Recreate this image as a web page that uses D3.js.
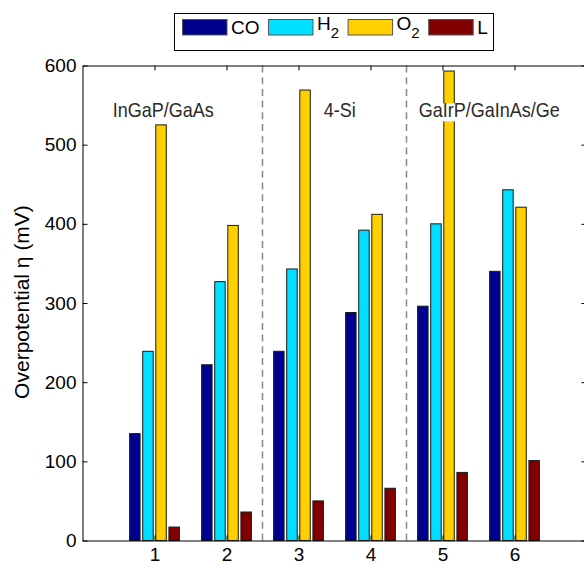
<!DOCTYPE html>
<html>
<head>
<meta charset="utf-8">
<script src="https://cdn.jsdelivr.net/npm/d3@7"></script>
<style>
  body { margin: 0; background: #fff; }
  svg { display: block; font-family: "Liberation Sans", Arial, Helvetica, sans-serif; }
</style>
</head>
<body>
<div id="chart"></div>
<script>
// data
const categories = [1, 2, 3, 4, 5, 6];
const seriesNames = ['CO', 'H2', 'O2', 'L'];
const coValues = [135, 222, 239, 288, 296, 340];
const h2Values = [239, 327, 343, 392, 400, 443];
const o2Values = [525, 398, 569, 412, 593, 421];
const lValues = [17, 36, 50, 66, 86, 101];
const yTicks = [0, 100, 200, 300, 400, 500, 600];
const groupLabels = ['InGaP/GaAs', '4-Si', 'GaIrP/GaInAs/Ge'];
const groupLabelX = [0.42, 3.35, 4.67];
const separators = [2.5, 4.5];
// legend text: [base, subscript]
const legendLabels = [['CO', ''], ['H', '2'], ['O', '2'], ['L', '']];

const colors = ['#00008f', '#00dfff', '#ffcf00', '#800000'];
const seriesValues = [coValues, h2Values, o2Values, lValues];

const W = 584, H = 564;
const margin = { top: 65.5, left: 82.5 };
const width = 504, height = 475;

const svg = d3.select('#chart').append('svg')
  .attr('width', W)
  .attr('height', H);

const g = svg.append('g')
  .attr('transform', `translate(${margin.left},${margin.top})`);

const x = d3.scaleLinear().domain([0, 7]).range([0, width]);
const y = d3.scaleLinear().domain([0, 600]).range([height, 0]);

// grouped bars, matlab style spacing
const slot = 0.182;
const barW = x(slot * 0.8) - x(0);

seriesNames.forEach((name, i) => {
  g.selectAll('.bar-' + name)
    .data(seriesValues[i])
    .enter()
    .append('rect')
    .attr('x', (d, j) => x(categories[j] + (i - 1.5) * slot) - barW / 2)
    .attr('y', d => y(d))
    .attr('width', barW)
    .attr('height', d => y(0) - y(d))
    .attr('fill', colors[i])
    .attr('stroke', '#1a1a1a')
    .attr('stroke-width', 1);
});

// dashed separators
g.selectAll('.sep')
  .data(separators)
  .enter()
  .append('line')
  .attr('x1', d => x(d)).attr('x2', d => x(d))
  .attr('y1', y(0)).attr('y2', y(600))
  .attr('stroke', '#888')
  .attr('stroke-width', 1.5)
  .attr('stroke-dasharray', '7,4.7');

// group labels with white backing
const labelBaseline = y(534.5);
groupLabels.forEach((t, i) => {
  const lx = x(groupLabelX[i]);
  const lg = g.append('g')
    .attr('transform', `translate(${lx},${labelBaseline}) scale(0.9,1)`);
  const txt = lg.append('text')
    .attr('x', 0).attr('y', 0)
    .attr('font-size', 20)
    .attr('fill', '#2a2a2a')
    .text(t);
  const len = txt.node().getComputedTextLength();
  lg.insert('rect', 'text')
    .attr('x', 0).attr('y', -14)
    .attr('width', len).attr('height', 18)
    .attr('fill', '#fff');
});

// axes (ticks inward)
const yAxis = g.append('g')
  .call(d3.axisLeft(y).tickValues(yTicks).tickSize(-5).tickSizeOuter(0).tickPadding(6));
yAxis.selectAll('text').attr('font-size', 19).attr('fill', '#000');

const xAxis = g.append('g')
  .attr('transform', `translate(0,${height})`)
  .call(d3.axisBottom(x).tickValues(categories).tickFormat(d3.format('d'))
    .tickSize(-5).tickSizeOuter(0).tickPadding(7));
xAxis.selectAll('text').attr('font-size', 19).attr('fill', '#000');

g.append('g')
  .call(d3.axisTop(x).tickValues(categories).tickSize(-5).tickSizeOuter(0).tickFormat(''));

g.append('g')
  .attr('transform', `translate(${width},0)`)
  .call(d3.axisRight(y).tickValues(yTicks).tickSize(-5).tickSizeOuter(0).tickFormat(''));

g.selectAll('.domain').attr('stroke', '#000');
g.selectAll('.tick line').attr('stroke', '#000');

// y axis title
svg.append('text')
  .attr('transform', 'translate(29,302) rotate(-90)')
  .attr('text-anchor', 'middle')
  .attr('font-size', 21)
  .attr('fill', '#000')
  .text('Overpotential η (mV)');

// legend
const legend = svg.append('g');
legend.append('rect')
  .attr('x', 174.5).attr('y', 13.5)
  .attr('width', 319).attr('height', 37)
  .attr('fill', '#fff')
  .attr('stroke', '#000');

let lx = 182.5;
legendLabels.forEach((lab, i) => {
  legend.append('rect')
    .attr('x', lx).attr('y', 19.5)
    .attr('width', 44.5).attr('height', 15.5)
    .attr('fill', colors[i])
    .attr('stroke', '#555');
  const hasSub = lab[1] !== '';
  const t = legend.append('text')
    .attr('x', lx + 48.5)
    .attr('y', hasSub ? 29.5 : 34.3)
    .attr('font-size', 19)
    .attr('fill', '#000');
  t.append('tspan').text(lab[0]);
  if (hasSub) {
    t.append('tspan').attr('dy', 8).attr('font-size', 15).text(lab[1]);
  }
  lx += 48.5 + t.node().getComputedTextLength() + 9;
});
</script>
</body>
</html>
